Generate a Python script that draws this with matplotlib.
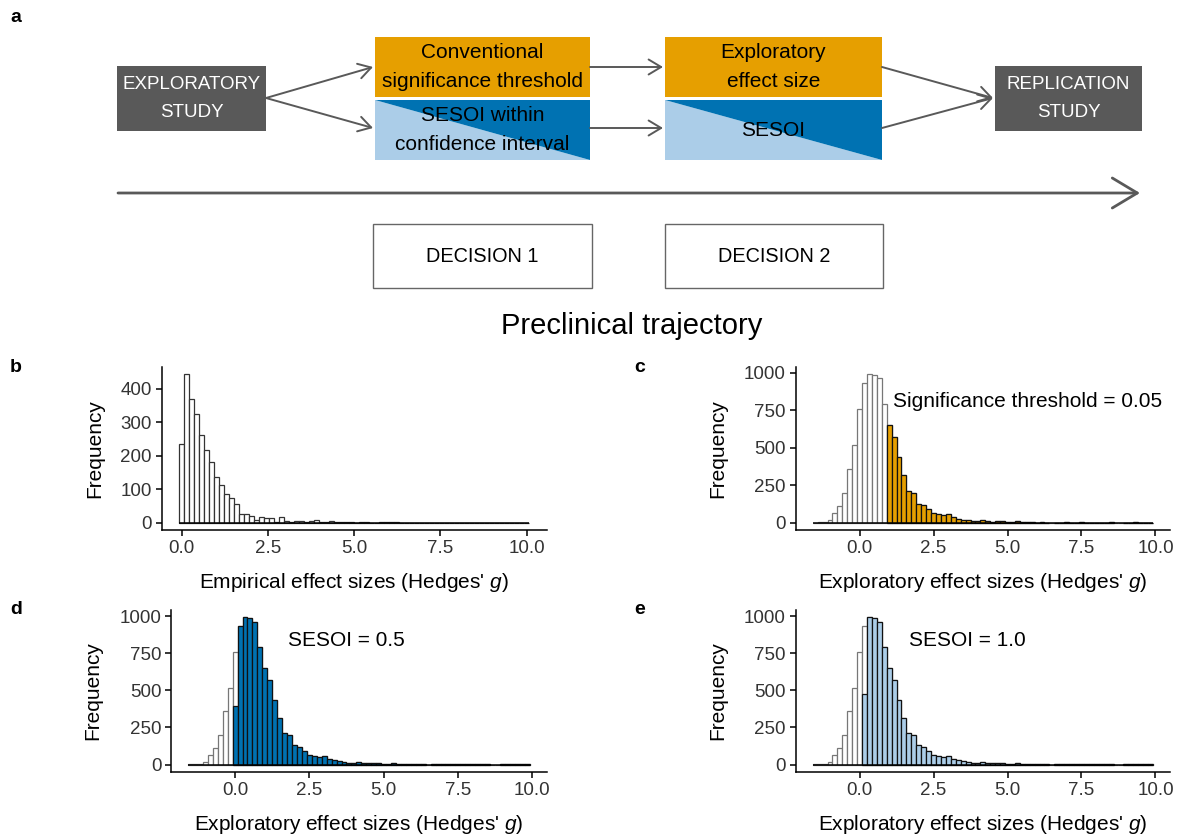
import numpy as np
import matplotlib
matplotlib.use('Agg')
import matplotlib.pyplot as plt
from matplotlib.patches import Rectangle, Polygon, FancyArrowPatch

plt.rcParams['font.family'] = ['Liberation Sans', 'DejaVu Sans']
plt.rcParams['mathtext.fontset'] = 'custom'
plt.rcParams['mathtext.it'] = 'Liberation Sans:italic'
plt.rcParams['mathtext.rm'] = 'Liberation Sans'

# ---------------- data ----------------
# panel b: empirical effect sizes, bins centred on k*width_b
width_b = 10 / 69
empirical_counts = [236, 443, 368, 323, 261, 218, 180, 138, 114, 87, 75, 57, 25, 25, 20,
                    10, 18, 14, 14, 3, 17, 7, 3, 5, 5, 4, 6, 8, 3, 2, 5, 2, 2, 3, 2,
                    1, 2, 2, 1, 1, 2, 2, 3, 2, 1, 1, 0, 1, 0, 0, 0, 0, 0, 1, 1,
                    0, 0, 0, 0, 0, 0, 0, 0, 0, 0, 0, 0, 1, 0, 1]

# panels c-e: exploratory effect sizes, bins centred on k/6, k = -9 .. 59
width_x = 1 / 6
first_k = -9
exploratory_counts = [2, 4, 7, 18, 65, 112, 202, 360, 519,
                      760, 930, 991, 985, 962, 789, 651, 572, 437, 316,
                      211, 199, 129, 116, 92, 68, 57, 52, 57, 37,
                      28, 22, 16, 10, 11, 19, 13, 9, 12, 10,
                      7, 6, 12, 4,
                      3, 3, 2, 3, 2, 0, 2, 2, 3, 2, 2, 3, 2, 1, 2, 2, 2, 3, 0, 0,
                      2, 2, 3, 2, 1, 2]

# selected subsets: first fully selected bin centre, plus partially selected bin
sig_first_full = 1.0          # significance threshold = 0.05
sig_partial = {}
sesoi05_first_full = 1 / 6    # SESOI = 0.5
sesoi05_partial = {0.0: 394}
sesoi10_first_full = 2 / 6    # SESOI = 1.0
sesoi10_partial = {1 / 6: 473}

ORANGE = '#E69F00'
DBLUE = '#0072B2'
LBLUE = '#ABCDE8'
GREY = '#595959'

W, H = 1178, 839
fig = plt.figure(figsize=(W / 100, H / 100), dpi=100)

# ---------------- panel a : flow chart ----------------
axf = fig.add_axes([0, 0, 1, 1])
axf.set_xlim(0, W)
axf.set_ylim(H, 0)
axf.axis('off')


def box(x0, y0, x1, y1, fc, ec='none', lw=0):
    axf.add_patch(Rectangle((x0, y0), x1 - x0, y1 - y0, facecolor=fc,
                            edgecolor=ec, linewidth=lw))


def split_box(x0, y0, x1, y1):
    axf.add_patch(Polygon([(x0, y0), (x0, y1), (x1, y1)], closed=True,
                          facecolor=LBLUE, edgecolor='none'))
    axf.add_patch(Polygon([(x0, y0), (x1, y0), (x1, y1)], closed=True,
                          facecolor=DBLUE, edgecolor='none'))


def arrow(p0, p1, ms=9, lw=1.4):
    axf.add_patch(FancyArrowPatch(p0, p1, arrowstyle='->,head_length=1.0,head_width=0.6',
                                  mutation_scale=ms, color=GREY, lw=lw,
                                  shrinkA=0, shrinkB=0))


axf.text(10, 18, 'a', fontsize=14, fontweight='bold', ha='left', va='center')

box(117, 66, 266, 131, GREY)
axf.text(191.5, 98.5, 'EXPLORATORY\nSTUDY', color='white', fontsize=13.5,
         ha='center', va='center', linespacing=1.8)

box(375, 37, 590, 97, ORANGE)
axf.text(482.5, 67, 'Conventional\nsignificance threshold', fontsize=15,
         ha='center', va='center', linespacing=1.62)
split_box(375, 100, 590, 160)
axf.text(482.5, 130, 'SESOI within\nconfidence interval', fontsize=15,
         ha='center', va='center', linespacing=1.62)

box(665, 37, 882, 97, ORANGE)
axf.text(773.5, 67, 'Exploratory\neffect size', fontsize=15,
         ha='center', va='center', linespacing=1.62)
split_box(665, 100, 882, 160)
axf.text(773.5, 130, 'SESOI', fontsize=15, ha='center', va='center')

box(995, 66, 1142, 131, GREY)
axf.text(1068.5, 98.5, 'REPLICATION\nSTUDY', color='white', fontsize=13.5,
         ha='center', va='center', linespacing=1.8)

arrow((266, 98), (373, 67))
arrow((266, 98), (373, 128))
arrow((590, 67), (663, 67))
arrow((590, 128), (663, 128))
arrow((882, 67), (993, 98))
arrow((882, 128), (993, 98))
arrow((118, 193), (1140, 193), ms=18, lw=2)

box(373, 224, 592, 288, 'white', ec='#666666', lw=1)
axf.text(482.5, 256, 'DECISION 1', fontsize=14.3, ha='center', va='center')
box(665, 224, 883, 288, 'white', ec='#666666', lw=1)
axf.text(774, 256, 'DECISION 2', fontsize=14.3, ha='center', va='center')

axf.text(632, 326, 'Preclinical trajectory', fontsize=21, ha='center', va='center')

axf.text(10, 368, 'b', fontsize=14, fontweight='bold', ha='left', va='center')
axf.text(634, 368, 'c', fontsize=14, fontweight='bold', ha='left', va='center')
axf.text(10, 610, 'd', fontsize=14, fontweight='bold', ha='left', va='center')
axf.text(634, 610, 'e', fontsize=14, fontweight='bold', ha='left', va='center')


# ---------------- histograms ----------------
def px_axes(x0, y0, x1, y1):
    return fig.add_axes([x0 / W, 1 - y1 / H, (x1 - x0) / W, (y1 - y0) / H])


def style(ax, yticks, xlabel):
    for s in ['top', 'right']:
        ax.spines[s].set_visible(False)
    for s in ['left', 'bottom']:
        ax.spines[s].set_linewidth(1.1)
    ax.tick_params(length=4, width=1.1, labelsize=13.5, colors='black',
                   labelcolor='#333333', pad=3)
    ax.set_xticks([0, 2.5, 5, 7.5, 10])
    ax.set_xticklabels(['0.0', '2.5', '5.0', '7.5', '10.0'])
    ax.set_yticks(yticks)
    ax.set_ylabel('Frequency', fontsize=15, labelpad=12)
    ax.set_xlabel(xlabel, fontsize=15, labelpad=10)


def limits(ax, centers, width, counts):
    lo = centers[0] - width / 2
    hi = centers[-1] + width / 2
    ax.set_xlim(lo - 0.05 * (hi - lo), hi + 0.05 * (hi - lo))
    m = max(counts)
    ax.set_ylim(-0.05 * m, 1.05 * m)
    ax.hlines(0, lo, hi, color='black', lw=1.1, zorder=3)


# panel b
cb = np.arange(len(empirical_counts)) * width_b
axb = px_axes(161.7, 366.7, 546.7, 530.3)
axb.bar(cb, empirical_counts, width=width_b, color='white', edgecolor='#333333',
        linewidth=0.9)
limits(axb, cb, width_b, empirical_counts)
style(axb, [0, 100, 200, 300, 400], "Empirical effect sizes (Hedges' $\\mathit{g}$)")

cx = (np.arange(len(exploratory_counts)) + first_k) * width_x
full = np.array(exploratory_counts, dtype=float)


def subset(first_full, partial):
    sub = np.where(cx >= first_full - 1e-9, full, 0.0)
    for c, v in partial.items():
        sub[np.argmin(np.abs(cx - c))] = v
    return sub


panels = [
    ((795.7, 366.7, 1170, 530.3), subset(sig_first_full, sig_partial), ORANGE,
     'Significance threshold = 0.05', (1.14, 811)),
    ((171, 610, 546.7, 772), subset(sesoi05_first_full, sesoi05_partial), DBLUE,
     'SESOI = 0.5', (1.79, 838)),
    ((795.7, 610, 1170, 772), subset(sesoi10_first_full, sesoi10_partial), LBLUE,
     'SESOI = 1.0', (1.66, 838)),
]

for rect, sub, col, label, pos in panels:
    ax = px_axes(*rect)
    ax.bar(cx, full, width=width_x, color='white', edgecolor='#777777', linewidth=0.9)
    m = sub > 0
    ax.bar(cx[m], sub[m], width=width_x, color=col, edgecolor='#111111', linewidth=0.9)
    limits(ax, cx, width_x, full)
    style(ax, [0, 250, 500, 750, 1000], "Exploratory effect sizes (Hedges' $\\mathit{g}$)")
    ax.text(pos[0], pos[1], label, fontsize=15, ha='left', va='center')

fig.savefig('out.png', dpi=100)
